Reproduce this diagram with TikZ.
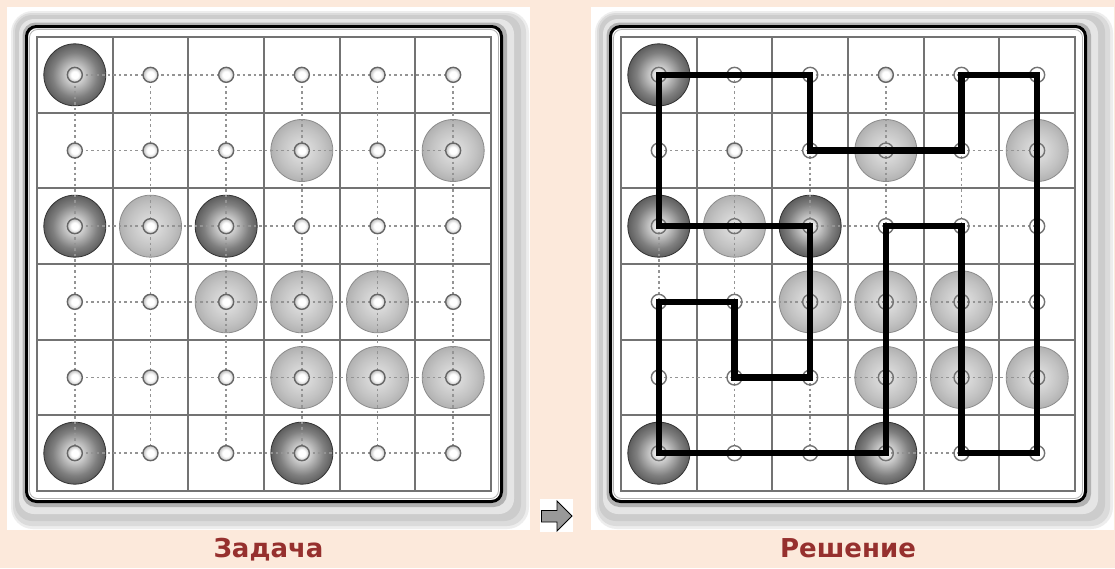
\documentclass[tikz,border=0pt]{standalone}
\usepackage{fontspec}
\newfontfamily\labelfont{DejaVu Sans}
\definecolor{bgpeach}{RGB}{252,233,219}
\definecolor{labelred}{RGB}{150,48,46}
\pgfdeclareradialshading{darkdisk}{\pgfpoint{0bp}{0bp}}{color(0bp)=(white); color(4bp)=(black!12); color(18bp)=(black!50); color(35bp)=(black!82); color(50bp)=(black!85)}
\pgfdeclareradialshading{lightdisk}{\pgfpoint{0bp}{0bp}}{color(0bp)=(black!10); color(18bp)=(black!24); color(35bp)=(black!40); color(50bp)=(black!42)}
\pgfdeclareradialshading{smalldot}{\pgfpoint{0bp}{0bp}}{color(0bp)=(white); color(12bp)=(white); color(35bp)=(black!45); color(50bp)=(black!50)}
\tikzset{
  gridline/.style={black!55, line width=1.8pt},
  link/.style={black!42, line width=1.6pt, dash pattern=on 2.5pt off 3pt},
  blackdisk/.style={circle, minimum size=62pt, inner sep=0pt, shading=darkdisk, draw=black!80, line width=0.8pt},
  whitedisk/.style={circle, minimum size=62pt, inner sep=0pt, shading=lightdisk, draw=black!45, line width=0.8pt},
  dotnode/.style={circle, minimum size=15pt, inner sep=0pt, shading=smalldot, draw=black!60, line width=1.4pt},
  ringnode/.style={circle, minimum size=15pt, inner sep=0pt, draw=black!55, line width=1.4pt},
  solpath/.style={line width=6.5pt, line join=miter},
  lbl/.style={font=\labelfont\bfseries\fontsize{26}{30}\selectfont, text=labelred, anchor=base, inner sep=0pt},
}
\begin{document}
\begin{tikzpicture}[x=1pt,y=-1pt]
\useasboundingbox (0,0) rectangle (1115,568);
\fill[bgpeach] (0,0) rectangle (1115,568);
\foreach \ox/\p in {0/L,584/R}{
\begin{scope}[xshift=\ox pt]
  % panel and frame
  \fill[white] (7,7) rectangle (530,530);
  \fill[black!7, rounded corners=22pt] (11,11) rectangle (529,529);
  \fill[black!14, rounded corners=19pt] (13,13) rectangle (526,526);
  \fill[black!20, rounded corners=17pt] (15,15) rectangle (521,521);
  \fill[black!10, rounded corners=15pt] (19,19) rectangle (514,514);
  \fill[black!30, rounded corners=13pt] (22.5,22.5) rectangle (507,507);
  \draw[black, line width=3pt, fill=white, rounded corners=10pt] (26.5,26.5) rectangle (501.5,501.5);
  \draw[black!30, line width=0.8pt, rounded corners=8pt] (29.5,29.5) rectangle (498.5,498.5);
  % grid
  \draw[gridline] (37,37) rectangle (491,491);
  \foreach \i in {1,...,5}{
    \draw[gridline] ({37+75.667*\i},37) -- ({37+75.667*\i},491);
    \draw[gridline] (37,{37+75.667*\i}) -- (491,{37+75.667*\i});
  }
  % centres
  \foreach \c in {0,...,5}{
    \foreach \r in {0,...,5}{
      \coordinate (\p-\c-\r) at ({74.83+75.667*\c},{74.83+75.667*\r});
    }
  }
  % disks
  \foreach \c/\r in {0/0,0/2,2/2,0/5,3/5}{
    \node[blackdisk] (\p-bd-\c-\r) at (\p-\c-\r) {};
  }
  \foreach \c/\r in {3/1,5/1,1/2,2/3,3/3,4/3,3/4,4/4,5/4}{
    \node[whitedisk] (\p-wd-\c-\r) at (\p-\c-\r) {};
  }
  % dotted links
  \foreach \r in {0,...,5}{
    \foreach \c [count=\n from 1] in {0,...,4}{
      \draw[link] (\p-\c-\r) -- (\p-\n-\r);
      \draw[link] (\p-\r-\c) -- (\p-\r-\n);
    }
  }
\end{scope}
}
% small dots, left panel
\foreach \c in {0,...,5}{
  \foreach \r in {0,...,5}{
    \node[dotnode] (Ldot-\c-\r) at (L-\c-\r) {};
  }
}
% small dots, right panel
\foreach \c/\r in {0/0,1/0,2/0,4/0,5/0,0/1,2/1,3/1,4/1,5/1,0/2,1/2,2/2,3/2,4/2,5/2,0/3,1/3,2/3,3/3,4/3,5/3,0/4,1/4,2/4,3/4,4/4,5/4,0/5,1/5,2/5,3/5,4/5,5/5}{
  \node[ringnode] (Rdot-\c-\r) at (R-\c-\r) {};
}
\node[dotnode] (Rdot-1-1) at (R-1-1) {};
\node[dotnode] (Rdot-3-0) at (R-3-0) {};
% solution loop
\draw[solpath] (R-0-0) -- (R-2-0) -- (R-2-1) -- (R-4-1) -- (R-4-0) -- (R-5-0)
  -- (R-5-5) -- (R-4-5) -- (R-4-2) -- (R-3-2) -- (R-3-5) -- (R-0-5)
  -- (R-0-3) -- (R-1-3) -- (R-1-4) -- (R-2-4) -- (R-2-2) -- (R-0-2) -- cycle;
% arrow
\fill[white] (540,499) rectangle (573,532);
\draw[black, fill=black!40, line width=0.8pt, line join=miter] (541.5,510.5) -- (557,510.5) -- (557,501) -- (572,516) -- (557,531) -- (557,522) -- (541.5,522) -- cycle;
% labels
\node[lbl] (task) at (268.5,557) {Задача};
\node[lbl] (sol) at (848,557) {Решение};
\end{tikzpicture}
\end{document}
